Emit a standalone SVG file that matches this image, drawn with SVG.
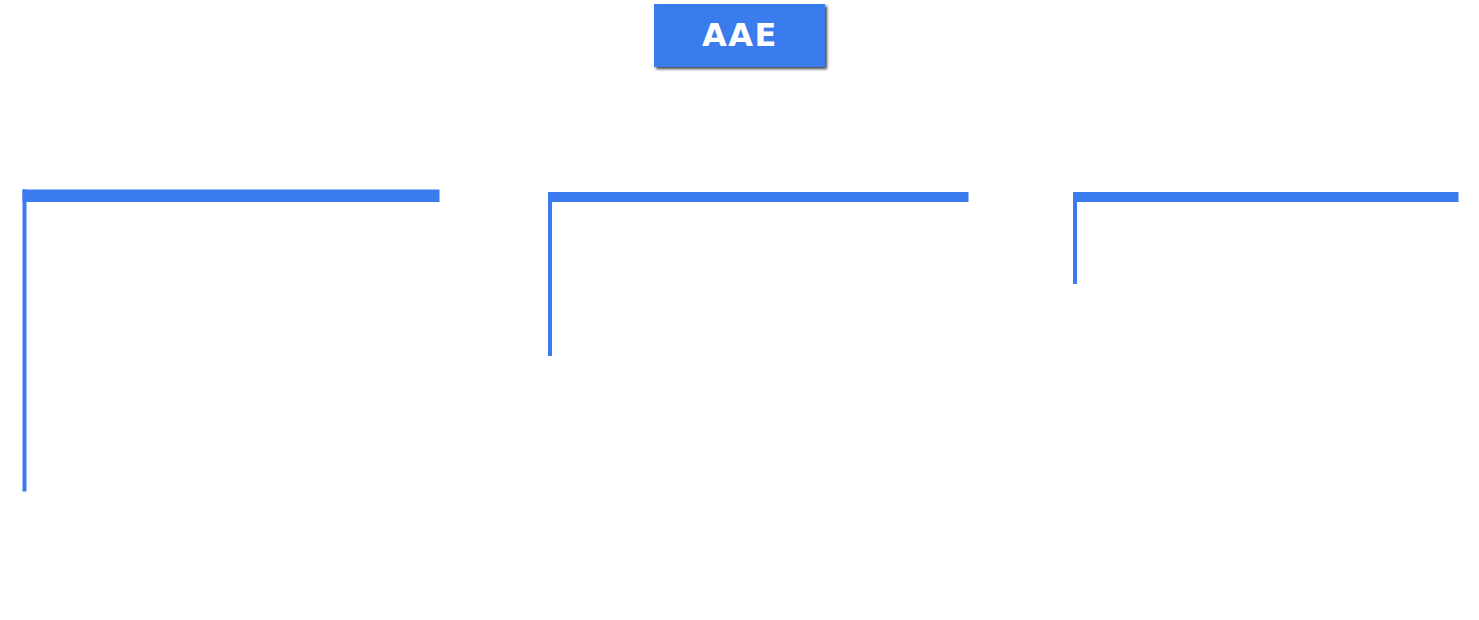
<svg xmlns="http://www.w3.org/2000/svg" width="1479" height="620" viewBox="0 0 1479 620">
  <defs>
    <filter id="shadow" x="-10%" y="-20%" width="130%" height="150%">
      <feGaussianBlur in="SourceAlpha" stdDeviation="1.5"/>
      <feOffset dx="2" dy="2" result="b"/>
      <feComponentTransfer><feFuncA type="linear" slope="0.75"/></feComponentTransfer>
      <feMerge><feMergeNode/><feMergeNode in="SourceGraphic"/></feMerge>
    </filter>
  </defs>
  <style>
    .blue { fill: #3a7bed; }
    .title { font-family: "DejaVu Sans", "Liberation Sans", sans-serif; font-weight: bold; font-size: 32px; fill: #ffffff; letter-spacing: 1.5px; }
  </style>
  <rect width="1479" height="620" fill="#ffffff"/>
  <g id="root">
    <rect class="blue" x="654" y="4" width="171" height="63" filter="url(#shadow)"/>
    <text class="title" x="740" y="46" text-anchor="middle">AAE</text>
  </g>
  <g id="connectors"></g>
  <g id="column-1">
    <rect class="blue" x="22.5" y="189.5" width="417" height="12.5"/>
    <rect class="blue" x="22.5" y="189.5" width="4" height="302"/>
  </g>
  <g id="column-2">
    <rect class="blue" x="548" y="192" width="420.5" height="10"/>
    <rect class="blue" x="548" y="192" width="4" height="164"/>
  </g>
  <g id="column-3">
    <rect class="blue" x="1073" y="192" width="385.5" height="10"/>
    <rect class="blue" x="1073" y="192" width="4" height="92"/>
  </g>
</svg>
